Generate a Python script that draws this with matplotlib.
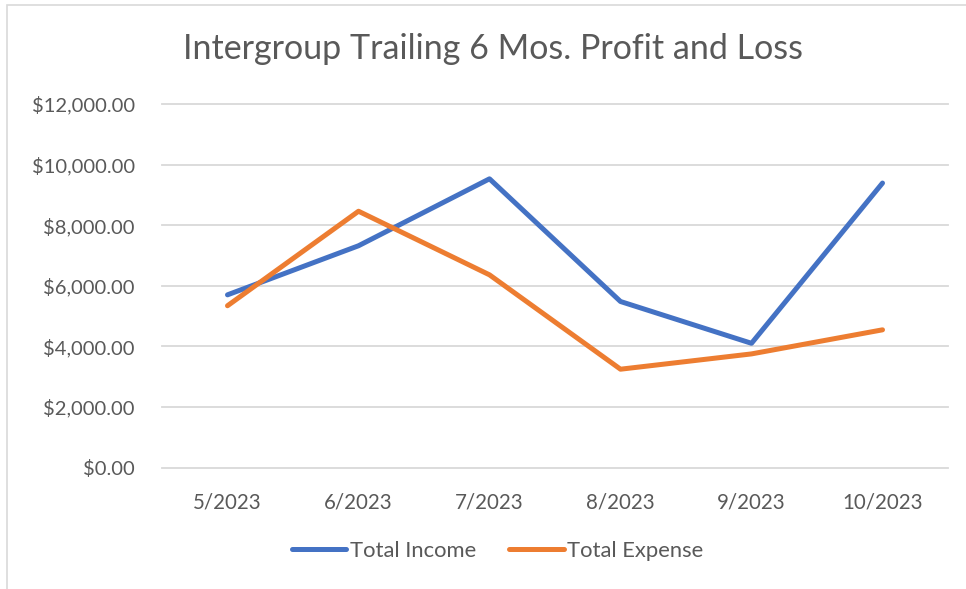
import matplotlib
matplotlib.use("Agg")
from matplotlib import pyplot as plt
from matplotlib.patches import Rectangle

months = ["5/2023", "6/2023", "7/2023", "8/2023", "9/2023", "10/2023"]
total_income = [5700, 7320, 9530, 5480, 4100, 9390]
total_expense = [5340, 8460, 6360, 3245, 3750, 4545]
y_ticks = [0, 2000, 4000, 6000, 8000, 10000, 12000]

text_color = "#595959"
plt.rcParams['font.family'] = ['Lato', 'DejaVu Sans']

W, H = 966, 589
fig = plt.figure(figsize=(W / 100, H / 100), dpi=100)
ax = fig.add_axes([162 / W, (H - 467.5) / H, (948 - 162) / W, (467.5 - 104) / H])

x = list(range(len(months)))
ax.plot(x, total_income, color="#4472C4", linewidth=3.6, label="Total Income",
        solid_joinstyle="round", solid_capstyle="round")
ax.plot(x, total_expense, color="#ED7D31", linewidth=3.6, label="Total Expense",
        solid_joinstyle="round", solid_capstyle="round")

ax.set_xlim(-0.5, len(months) - 0.5)
ax.set_ylim(0, 12000)
ax.set_yticks(y_ticks)
ax.set_yticklabels([f"${v:,.2f}" for v in y_ticks])
ax.set_xticks(x)
ax.set_xticklabels(months)
ax.grid(axis='y', color="#D9D9D9", linewidth=1.3)
for gl in ax.get_ygridlines():
    gl.set_clip_on(False)
ax.set_axisbelow(True)
for s in ax.spines.values():
    s.set_visible(False)
ax.tick_params(axis='both', length=0, labelsize=14.5, colors=text_color)
ax.tick_params(axis='x', labelsize=14.8, pad=18)
ax.tick_params(axis='y', pad=19.5)

fig.text(493 / W, 1 - 49 / H, "Intergroup Trailing 6 Mos. Profit and Loss",
         ha='center', va='center', fontsize=24.5, color=text_color)

leg = fig.legend(loc='center', bbox_to_anchor=(497.5 / W, 1 - 551 / H), ncol=2,
                 frameon=False, fontsize=15.8, handlelength=2.5, handletextpad=0.15,
                 columnspacing=1.5, labelcolor=text_color)

fig.patches.append(Rectangle((7 / W, -0.1), 1.2, 1 - 5 / H + 0.1, transform=fig.transFigure,
                             fill=False, edgecolor="#D9D9D9", linewidth=1.2))

fig.savefig("out.png", dpi=100)
